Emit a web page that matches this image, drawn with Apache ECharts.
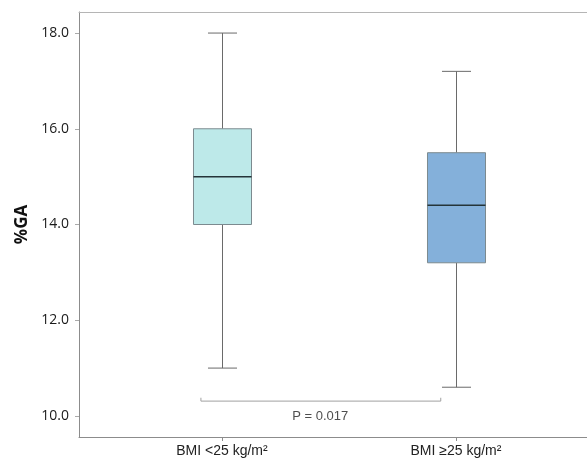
<!DOCTYPE html>
<html>
<head>
<meta charset="utf-8">
<script src="https://cdn.jsdelivr.net/npm/echarts@6/dist/echarts.min.js"></script>
<style>
  html, body { margin: 0; padding: 0; background: #fff; }
  #chart { width: 587px; height: 460px; }
</style>
</head>
<body>
<div id="chart"></div>
<script>
const categories = ["BMI <25 kg/m²", "BMI ≥25 kg/m²"];
const whiskerLow = [11.0, 10.6];
const quartile1 = [14.0, 13.2];
const medians = [15.0, 14.4];
const quartile3 = [16.0, 15.5];
const whiskerHigh = [18.0, 17.2];
const boxColors = ["#bde9e9", "#84b0da"];
const yTicks = [10, 12, 14, 16, 18];

// significance bracket between the two groups
const bracketX = [0.91, 1.935];
const bracketY = [10.31, 10.38];
const pLabel = "P = 0.017";
const pLabelPos = [1.42, 10.0];

const boxData = categories.map((name, i) => [
  i + 1, whiskerLow[i], quartile1[i], medians[i], quartile3[i], whiskerHigh[i],
]);

const chart = echarts.init(document.getElementById("chart"));

function renderBox(params, api) {
  const x = api.value(0);
  const lo = api.coord([x, api.value(1)]);
  const q1 = api.coord([x, api.value(2)]);
  const med = api.coord([x, api.value(3)]);
  const q3 = api.coord([x, api.value(4)]);
  const hi = api.coord([x, api.value(5)]);
  const boxW = api.size([0.248, 0])[0];
  const capW = boxW / 2;
  const cx = Math.round(lo[0]) + 0.5;
  const lineStyle = { stroke: "#6a6a6a", lineWidth: 1 };
  return {
    type: "group",
    children: [
      { type: "line", shape: { x1: cx, y1: hi[1], x2: cx, y2: q3[1] }, style: lineStyle },
      { type: "line", shape: { x1: cx, y1: q1[1], x2: cx, y2: lo[1] }, style: lineStyle },
      { type: "line", shape: { x1: cx - capW / 2, y1: hi[1], x2: cx + capW / 2, y2: hi[1] }, style: lineStyle },
      { type: "line", shape: { x1: cx - capW / 2, y1: lo[1], x2: cx + capW / 2, y2: lo[1] }, style: lineStyle },
      {
        type: "rect",
        shape: { x: cx - boxW / 2, y: q3[1], width: boxW, height: q1[1] - q3[1] },
        style: { fill: boxColors[params.dataIndex], stroke: "#7c8a8f", lineWidth: 1 },
      },
      {
        type: "line",
        shape: { x1: cx - boxW / 2, y1: med[1], x2: cx + boxW / 2, y2: med[1] },
        style: { stroke: "#243438", lineWidth: 1.5 },
      },
    ],
  };
}

chart.setOption({
  animation: false,
  backgroundColor: "#fff",
  grid: { left: 79, right: 0, top: 12, bottom: 23 },
  xAxis: [
    {
      type: "value",
      min: 0.389,
      max: 2.56,
      splitLine: { show: false },
      axisLine: { lineStyle: { color: "#8c8c8c" } },
      axisTick: { customValues: [1, 2], length: 4, lineStyle: { color: "#8c8c8c" } },
      axisLabel: {
        customValues: [1, 2],
        formatter: (v) => categories[Math.round(v) - 1],
        color: "#222",
        fontFamily: "Liberation Sans",
        fontSize: 14,
        margin: 7,
      },
    },
    {
      // top frame line only
      type: "value",
      position: "top",
      min: 0.389,
      max: 2.56,
      splitLine: { show: false },
      axisLine: { show: true, lineStyle: { color: "#b5b5b5" } },
      axisTick: { show: false },
      axisLabel: { show: false },
    },
  ],
  yAxis: {
    type: "value",
    min: 9.56,
    max: 18.44,
    name: "%GA",
    nameLocation: "middle",
    nameGap: 48,
    nameTextStyle: { color: "#111", fontFamily: "Open Sans", fontWeight: "bold", fontSize: 17 },
    splitLine: { show: false },
    axisLine: { show: true, lineStyle: { color: "#8c8c8c" } },
    axisTick: { show: true, customValues: yTicks, length: 4, lineStyle: { color: "#aaa" } },
    axisLabel: {
      customValues: yTicks,
      formatter: (v) => v.toFixed(1),
      color: "#1a1a1a",
      fontFamily: "Open Sans",
      fontSize: 14,
      margin: 10,
    },
  },
  series: [
    {
      type: "custom",
      renderItem: renderBox,
      data: boxData,
      encode: { x: 0, y: [1, 2, 3, 4, 5] },
      z: 3,
    },
    {
      type: "line",
      symbol: "none",
      lineStyle: { color: "#a0a0a0", width: 1 },
      data: [
        [bracketX[0], bracketY[1]],
        [bracketX[0], bracketY[0]],
        [bracketX[1], bracketY[0]],
        [bracketX[1], bracketY[1]],
      ],
      z: 2,
    },
    {
      type: "scatter",
      symbolSize: 0,
      data: [pLabelPos],
      label: {
        show: true,
        position: "inside",
        formatter: pLabel,
        color: "#222",
        fontFamily: "Liberation Sans",
        fontSize: 13,
      },
    },
  ],
});
</script>
</body>
</html>
